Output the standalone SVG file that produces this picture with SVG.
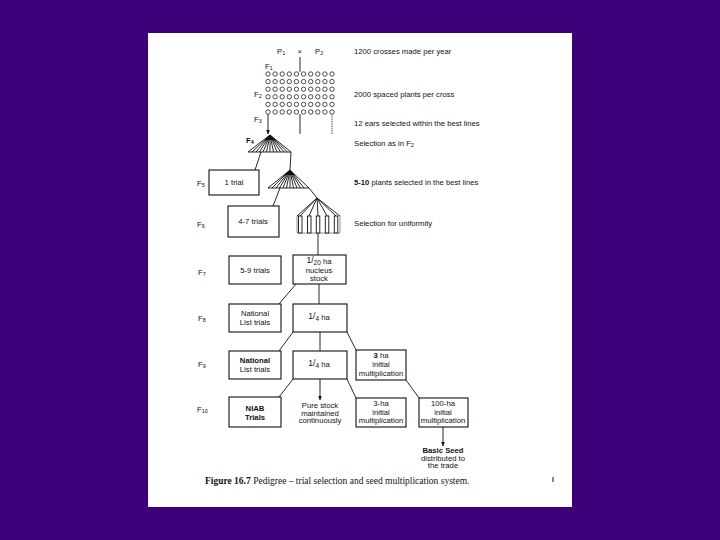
<svg xmlns="http://www.w3.org/2000/svg" width="720" height="540" viewBox="0 0 720 540">
<style>
.t{font-family:"Liberation Sans",Arial,sans-serif;font-size:7.7px;fill:#111}
.s{font-size:5.5px}
.c{text-anchor:middle}
.b{font-weight:bold}
.box{fill:#fff;stroke:#111;stroke-width:1.1}
.ln{stroke:#111;stroke-width:0.9;fill:none}
.dot{fill:#fff;stroke:#222;stroke-width:0.8}
.cap{font-family:"Liberation Serif","Times New Roman",serif;font-size:9.5px;fill:#111}
</style>
<defs>
<marker id="ah" viewBox="0 0 10 10" refX="9" refY="5" markerWidth="5" markerHeight="5" orient="auto"><path d="M0,1 L10,5 L0,9 z" fill="#111"/></marker>
</defs>
<rect width="720" height="540" fill="#3E007A"/>
<rect x="148" y="33" width="424" height="474" fill="#fff"/>

<g id="crosses">
<text class="t" x="277" y="54">P<tspan class="s" dy="1">1</tspan></text>
<text class="t" x="297.5" y="54">×</text>
<text class="t" x="315" y="54">P<tspan class="s" dy="1">2</tspan></text>
<line class="ln" x1="300" y1="57" x2="300" y2="72"/>
<text class="t" x="265" y="69">F<tspan class="s" dy="1">1</tspan></text>
</g>

<g id="f2-grid">
<g class="dot">
<circle cx="268" cy="74" r="2.2"/><circle cx="275.1" cy="74" r="2.2"/><circle cx="282.2" cy="74" r="2.2"/><circle cx="289.3" cy="74" r="2.2"/><circle cx="296.4" cy="74" r="2.2"/><circle cx="303.6" cy="74" r="2.2"/><circle cx="310.7" cy="74" r="2.2"/><circle cx="317.8" cy="74" r="2.2"/><circle cx="324.9" cy="74" r="2.2"/><circle cx="332" cy="74" r="2.2"/>
<circle cx="268" cy="81.6" r="2.2"/><circle cx="275.1" cy="81.6" r="2.2"/><circle cx="282.2" cy="81.6" r="2.2"/><circle cx="289.3" cy="81.6" r="2.2"/><circle cx="296.4" cy="81.6" r="2.2"/><circle cx="303.6" cy="81.6" r="2.2"/><circle cx="310.7" cy="81.6" r="2.2"/><circle cx="317.8" cy="81.6" r="2.2"/><circle cx="324.9" cy="81.6" r="2.2"/><circle cx="332" cy="81.6" r="2.2"/>
<circle cx="268" cy="89.2" r="2.2"/><circle cx="275.1" cy="89.2" r="2.2"/><circle cx="282.2" cy="89.2" r="2.2"/><circle cx="289.3" cy="89.2" r="2.2"/><circle cx="296.4" cy="89.2" r="2.2"/><circle cx="303.6" cy="89.2" r="2.2"/><circle cx="310.7" cy="89.2" r="2.2"/><circle cx="317.8" cy="89.2" r="2.2"/><circle cx="324.9" cy="89.2" r="2.2"/><circle cx="332" cy="89.2" r="2.2"/>
<circle cx="268" cy="96.8" r="2.2"/><circle cx="275.1" cy="96.8" r="2.2"/><circle cx="282.2" cy="96.8" r="2.2"/><circle cx="289.3" cy="96.8" r="2.2"/><circle cx="296.4" cy="96.8" r="2.2"/><circle cx="303.6" cy="96.8" r="2.2"/><circle cx="310.7" cy="96.8" r="2.2"/><circle cx="317.8" cy="96.8" r="2.2"/><circle cx="324.9" cy="96.8" r="2.2"/><circle cx="332" cy="96.8" r="2.2"/>
<circle cx="268" cy="104.4" r="2.2"/><circle cx="275.1" cy="104.4" r="2.2"/><circle cx="282.2" cy="104.4" r="2.2"/><circle cx="289.3" cy="104.4" r="2.2"/><circle cx="296.4" cy="104.4" r="2.2"/><circle cx="303.6" cy="104.4" r="2.2"/><circle cx="310.7" cy="104.4" r="2.2"/><circle cx="317.8" cy="104.4" r="2.2"/><circle cx="324.9" cy="104.4" r="2.2"/><circle cx="332" cy="104.4" r="2.2"/>
<circle cx="268" cy="112" r="2.2"/><circle cx="275.1" cy="112" r="2.2"/><circle cx="282.2" cy="112" r="2.2"/><circle cx="289.3" cy="112" r="2.2"/><circle cx="296.4" cy="112" r="2.2"/><circle cx="303.6" cy="112" r="2.2"/><circle cx="310.7" cy="112" r="2.2"/><circle cx="317.8" cy="112" r="2.2"/><circle cx="324.9" cy="112" r="2.2"/><circle cx="332" cy="112" r="2.2"/>
</g>
<text class="t" x="254" y="97">F<tspan class="s" dy="1">2</tspan></text>
<text class="t" x="254" y="122">F<tspan class="s" dy="1">3</tspan></text>
</g>

<g id="fan-f4">
<text class="t b" x="246" y="143">F<tspan class="s" dy="1">4</tspan></text>
<path class="ln" d="M270,135 L248,152 H291 Z M270,135 L252,152 M270,135 L256,152 M270,135 L259.5,152 M270,135 L263,152 M270,135 L266.5,152 M270,135 L270,152 M270,135 L273.5,152 M270,135 L277,152 M270,135 L280.5,152 M270,135 L284,152 M270,135 L287.5,152"/>
<path d="M270,135 L265,140 L275,140 Z" fill="#111"/>
</g>

<g id="fan-f5">
<path class="ln" d="M290,170 L268,188 H309 Z M290,170 L272,188 M290,170 L276,188 M290,170 L279.5,188 M290,170 L283,188 M290,170 L286.5,188 M290,170 L290,188 M290,170 L293.5,188 M290,170 L297,188 M290,170 L300.5,188 M290,170 L304,188"/>
<path d="M290,170 L285,175 L295,175 Z" fill="#111"/>
</g>

<g id="fan-f6">
<path class="ln" d="M317,198 L297,216 M317,198 L300,216 M317,198 L309,216 M317,198 L318,216 M317,198 L327,216 M317,198 L336,216 M317,198 L340,216"/>
<path d="M297,216 V233 H340 V216" fill="none" stroke="#777" stroke-width="0.8"/>
<g fill="#fff" stroke="#111" stroke-width="0.9">
<rect x="298.5" y="216" width="3.5" height="17"/>
<rect x="307.5" y="216" width="3.5" height="17"/>
<rect x="316.3" y="216" width="3.5" height="17"/>
<rect x="325.3" y="216" width="3.5" height="17"/>
<rect x="334.3" y="216" width="3.5" height="17"/>
</g>
</g>

<g id="connectors">
<line class="ln" x1="268" y1="114" x2="268" y2="134" marker-end="url(#ah)"/>
<line class="ln" x1="300" y1="114" x2="300" y2="134"/>
<line x1="332" y1="114" x2="332" y2="134" stroke="#555" stroke-width="1" stroke-dasharray="1.5,0.8"/>
<line class="ln" x1="261" y1="152" x2="255" y2="170"/>
<line class="ln" x1="291" y1="152" x2="290" y2="170"/>
<line class="ln" x1="280" y1="188" x2="273" y2="206"/>
<line class="ln" x1="309" y1="188" x2="317" y2="198"/>
<line class="ln" x1="318" y1="233" x2="318" y2="255"/>
<line class="ln" x1="296" y1="284" x2="279" y2="304"/>
<line class="ln" x1="319" y1="284" x2="319" y2="304"/>
<line class="ln" x1="293" y1="332" x2="279" y2="351"/>
<line class="ln" x1="320" y1="332" x2="320" y2="351" stroke="#555"/>
<line class="ln" x1="347" y1="332" x2="356" y2="350"/>
<line class="ln" x1="293" y1="379" x2="279" y2="397"/>
<line class="ln" x1="320" y1="379" x2="320" y2="400" marker-end="url(#ah)"/>
<line class="ln" x1="347" y1="379" x2="356" y2="398"/>
<line class="ln" x1="406" y1="380" x2="419" y2="398"/>
<line class="ln" x1="443" y1="427" x2="443" y2="446" marker-end="url(#ah)"/>
</g>

<g id="n-1trial">
<text class="t" x="197" y="186">F<tspan class="s" dy="1">5</tspan></text>
<rect class="box" x="209" y="170" width="50" height="25"/>
<text class="t c" x="234" y="185">1 trial</text>
</g>
<g id="n-47trials">
<text class="t" x="197" y="227">F<tspan class="s" dy="1">6</tspan></text>
<rect class="box" x="228" y="206" width="51" height="31"/>
<text class="t c" x="253" y="224">4-7 trials</text>
</g>
<g id="n-59trials">
<text class="t" x="198" y="275">F<tspan class="s" dy="1">7</tspan></text>
<rect class="box" x="229" y="256" width="52" height="28"/>
<text class="t c" x="255" y="273">5-9 trials</text>
</g>
<g id="n-nucleus">
<rect class="box" x="293" y="255" width="53" height="29"/>
<text class="t c" x="319" y="264"><tspan font-size="8.5" dy="-1">1</tspan><tspan font-size="8.5">/</tspan><tspan font-size="6.5" dy="2">20</tspan><tspan dy="-1"> ha</tspan></text>
<text class="t c" x="319" y="272.5">nucleus</text>
<text class="t c" x="319" y="280.5">stock</text>
</g>
<g id="n-nl1">
<text class="t" x="198" y="321">F<tspan class="s" dy="1">8</tspan></text>
<rect class="box" x="229" y="304" width="52" height="28"/>
<text class="t c" x="255" y="316">National</text>
<text class="t c" x="255" y="325">List trials</text>
</g>
<g id="n-quarter1">
<rect class="box" x="293" y="304" width="54" height="28"/>
<text class="t c" x="319" y="320"><tspan font-size="8.5" dy="-1">1</tspan><tspan font-size="8.5">/</tspan><tspan font-size="6.5" dy="2">4</tspan><tspan dy="-1"> ha</tspan></text>
</g>
<g id="n-nl2">
<text class="t" x="198" y="367">F<tspan class="s" dy="1">9</tspan></text>
<rect class="box" x="229" y="351" width="52" height="28"/>
<text class="t c b" x="255" y="363">National</text>
<text class="t c" x="255" y="372">List trials</text>
</g>
<g id="n-quarter2">
<rect class="box" x="293" y="351" width="54" height="28"/>
<text class="t c" x="319" y="367"><tspan font-size="8.5" dy="-1">1</tspan><tspan font-size="8.5">/</tspan><tspan font-size="6.5" dy="2">4</tspan><tspan dy="-1"> ha</tspan></text>
</g>
<g id="n-3ha1">
<rect class="box" x="356" y="350" width="50" height="30"/>
<text class="t c" x="381" y="358"><tspan class="b">3</tspan> ha</text>
<text class="t c" x="381" y="367">initial</text>
<text class="t c" x="381" y="376">multiplication</text>
</g>
<g id="n-niab">
<text class="t" x="197" y="412">F<tspan class="s" dy="1">10</tspan></text>
<rect class="box" x="229" y="397" width="52" height="30"/>
<text class="t c b" x="255" y="411">NIAB</text>
<text class="t c b" x="255" y="420">Trials</text>
</g>
<g id="n-purestock">
<text class="t c" x="320" y="408">Pure stock</text>
<text class="t c" x="320" y="415.5">maintained</text>
<text class="t c" x="320" y="423">continuously</text>
</g>
<g id="n-3ha2">
<rect class="box" x="356" y="398" width="50" height="29"/>
<text class="t c" x="381" y="406">3-ha</text>
<text class="t c" x="381" y="414.5">initial</text>
<text class="t c" x="381" y="423">multiplication</text>
</g>
<g id="n-100ha">
<rect class="box" x="419" y="398" width="49" height="29"/>
<text class="t c" x="443" y="406">100-ha</text>
<text class="t c" x="443" y="414.5">initial</text>
<text class="t c" x="443" y="423">multiplication</text>
</g>
<g id="n-basic">
<text class="t c b" x="443" y="453">Basic Seed</text>
<text class="t c" x="443" y="460.5">distributed to</text>
<text class="t c" x="443" y="468">the trade</text>
</g>

<g id="notes">
<text class="t" x="354" y="54">1200 crosses made per year</text>
<text class="t" x="354" y="97">2000 spaced plants per cross</text>
<text class="t" x="354" y="126">12 ears selected within the best lines</text>
<text class="t" x="354" y="146">Selection as in F<tspan class="s" dy="1">2</tspan></text>
<text class="t" x="354" y="185"><tspan class="b">5-10</tspan> plants selected in the best lines</text>
<text class="t" x="354" y="226">Selection for uniformity</text>
</g>

<g id="caption">
<text class="cap" x="205" y="484"><tspan font-weight="bold">Figure 16.7</tspan> Pedigree – trial selection and seed multiplication system.</text>
<rect x="552.5" y="477" width="1" height="5" fill="#111"/>
</g>
</svg>
